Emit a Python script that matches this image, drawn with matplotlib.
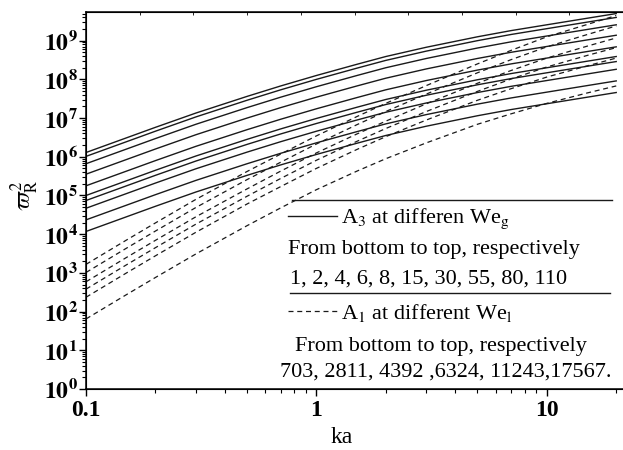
import numpy as np
import matplotlib
matplotlib.use('Agg')
import matplotlib.pyplot as plt
from matplotlib.ticker import LogLocator, NullFormatter, FuncFormatter

plt.rcParams['font.family'] = ['Liberation Serif', 'DejaVu Serif']
plt.rcParams['mathtext.fontset'] = 'stix'

# ka sample points
ka = [0.1, 0.15, 0.2, 0.3, 0.5, 0.7, 1, 1.5, 2, 3, 5, 7, 10, 15, 20]

# A3 (solid), log10 of omega_R^2, We_g = 1 ... 110 (bottom to top)
a3_we1 = [4.07, 4.45, 4.72, 5.09, 5.52, 5.79, 6.06, 6.35, 6.55, 6.79, 7.06, 7.22, 7.37, 7.54, 7.66]
a3_we2 = [4.37, 4.75, 5.02, 5.39, 5.82, 6.09, 6.36, 6.65, 6.85, 7.09, 7.36, 7.52, 7.67, 7.84, 7.96]
a3_we4 = [4.67, 5.05, 5.32, 5.69, 6.12, 6.39, 6.66, 6.95, 7.15, 7.39, 7.66, 7.82, 7.97, 8.14, 8.26]
a3_we6 = [4.87, 5.25, 5.52, 5.89, 6.32, 6.59, 6.86, 7.15, 7.35, 7.59, 7.86, 8.02, 8.17, 8.34, 8.46]
a3_we8 = [5.00, 5.38, 5.65, 6.02, 6.45, 6.72, 6.99, 7.28, 7.48, 7.72, 7.99, 8.15, 8.30, 8.47, 8.59]
a3_we15 = [5.25, 5.63, 5.90, 6.27, 6.70, 6.97, 7.24, 7.53, 7.73, 7.97, 8.24, 8.40, 8.55, 8.72, 8.84]
a3_we30 = [5.55, 5.93, 6.20, 6.57, 7.00, 7.27, 7.54, 7.83, 8.03, 8.27, 8.54, 8.70, 8.85, 9.02, 9.14]
a3_we55 = [5.82, 6.20, 6.47, 6.84, 7.27, 7.54, 7.81, 8.10, 8.30, 8.54, 8.81, 8.97, 9.12, 9.29, 9.41]
a3_we80 = [6.01, 6.39, 6.66, 7.03, 7.46, 7.73, 8.00, 8.29, 8.49, 8.73, 9.00, 9.16, 9.31, 9.48, 9.60]
a3_we110 = [6.11, 6.49, 6.76, 7.13, 7.56, 7.83, 8.10, 8.39, 8.59, 8.83, 9.10, 9.26, 9.41, 9.58, 9.70]

# A1 (dashed), log10 of omega_R^2, We_l = 703 ... 17567 (bottom to top)
a1_we703 = [1.81, 2.44, 2.88, 3.49, 4.22, 4.68, 5.15, 5.63, 5.95, 6.36, 6.84, 7.11, 7.38, 7.65, 7.83]
a1_we2811 = [2.37, 3.00, 3.44, 4.05, 4.78, 5.23, 5.70, 6.19, 6.52, 6.95, 7.46, 7.76, 8.06, 8.35, 8.55]
a1_we4392 = [2.58, 3.21, 3.65, 4.26, 4.98, 5.44, 5.91, 6.40, 6.73, 7.17, 7.69, 8.01, 8.32, 8.62, 8.82]
a1_we6324 = [2.77, 3.40, 3.84, 4.45, 5.17, 5.63, 6.10, 6.59, 6.92, 7.37, 7.90, 8.23, 8.55, 8.86, 9.07]
a1_we11243 = [3.01, 3.64, 4.08, 4.69, 5.41, 5.86, 6.33, 6.83, 7.17, 7.62, 8.17, 8.51, 8.84, 9.16, 9.38]
a1_we17567 = [3.22, 3.85, 4.29, 4.90, 5.62, 6.07, 6.54, 7.04, 7.38, 7.84, 8.40, 8.75, 9.10, 9.42, 9.65]

a3_lines = [a3_we1, a3_we2, a3_we4, a3_we6, a3_we8,
            a3_we15, a3_we30, a3_we55, a3_we80, a3_we110]
a1_lines = [a1_we703, a1_we2811, a1_we4392, a1_we6324, a1_we11243, a1_we17567]

W, H = 623, 450
fig = plt.figure(figsize=(W / 100, H / 100), dpi=100)
ax = fig.add_axes([86 / W, 1 - 389 / H, (623 - 86) / W, (389 - 12) / H])

col = '#1a1a1a'
for v in a3_lines:
    ax.plot(ka, 10 ** np.array(v), color=col, lw=1.0)
for v in a1_lines:
    ax.plot(ka, 10 ** np.array(v), color=col, lw=0.9, ls=(0, (4, 3)))

ax.set_xscale('log')
ax.set_yscale('log')
ax.set_xlim(0.1, 21.4)
ax.set_ylim(1, 5.5e9)

ax.yaxis.set_major_locator(LogLocator(base=10, numticks=20))
ax.yaxis.set_minor_locator(LogLocator(base=10, subs=np.arange(2, 10), numticks=20))
ax.yaxis.set_minor_formatter(NullFormatter())
ax.yaxis.set_major_formatter(FuncFormatter(lambda v, p: r'$\mathbf{10^{%d}}$' % round(np.log10(v))))

ax.set_xticks([0.1, 1, 10])
ax.set_xticklabels(['0.1', '1', '10'], fontweight='bold')
ax.xaxis.set_minor_locator(LogLocator(base=10, subs=np.arange(2, 10), numticks=20))
ax.xaxis.set_minor_formatter(NullFormatter())

ax.tick_params(which='major', direction='out', length=5, width=1.0, labelsize=17, pad=1)
ax.tick_params(which='minor', direction='out', length=3, width=0.8)
ax.tick_params(axis='x', which='major', pad=3)
ax.spines['right'].set_visible(False)
for s in ['left', 'bottom', 'top']:
    ax.spines[s].set_linewidth(1.1)

# linear ticks on the top spine
ax2 = ax.twiny()
ax2.set_xlim(0, 1)
ax2.set_xticks(np.arange(0, 1.01, 0.1))
ax2.set_xticklabels([])
ax2.tick_params(direction='in', length=2, width=0.6)
ax2.spines['right'].set_visible(False)


def fx(x):
    return x / W


def fy(y):
    return 1 - y / H


fs = 16
fig.text(fx(342), fy(443), 'ka', fontsize=17, ha='center', va='baseline')
fig.text(fx(25), fy(195), r'$\varpi_{\mathrm{R}}^{2}$', fontsize=17,
         rotation=90, ha='center', va='center')

# legend block
fig.add_artist(plt.Line2D([fx(292), fx(612)], [fy(200), fy(200)], color=col, lw=1.0))
fig.add_artist(plt.Line2D([fx(288), fx(337)], [fy(216), fy(216)], color=col, lw=1.0))
fig.text(fx(341), fy(223.5), r'A$_3$ at differen We$_\mathrm{g}$', fontsize=fs, va='baseline')
fig.text(fx(288), fy(254), 'From bottom to top, respectively', fontsize=fs, va='baseline')
fig.text(fx(290), fy(283.5), '1, 2, 4, 6, 8, 15, 30, 55, 80, 110', fontsize=fs, va='baseline')
fig.add_artist(plt.Line2D([fx(290), fx(610)], [fy(293), fy(293)], color=col, lw=1.0))
fig.add_artist(plt.Line2D([fx(288), fx(337)], [fy(311), fy(311)], color=col, lw=0.9,
                          ls=(0, (4, 3))))
fig.text(fx(341), fy(319.5), r'A$_1$ at different We$_\mathrm{l}$', fontsize=fs, va='baseline')
fig.text(fx(295), fy(351.5), 'From bottom to top, respectively', fontsize=fs, va='baseline')
fig.text(fx(280), fy(376.5), '703, 2811, 4392 ,6324, 11243,17567.', fontsize=fs, va='baseline')

fig.savefig('out.png', dpi=100)
